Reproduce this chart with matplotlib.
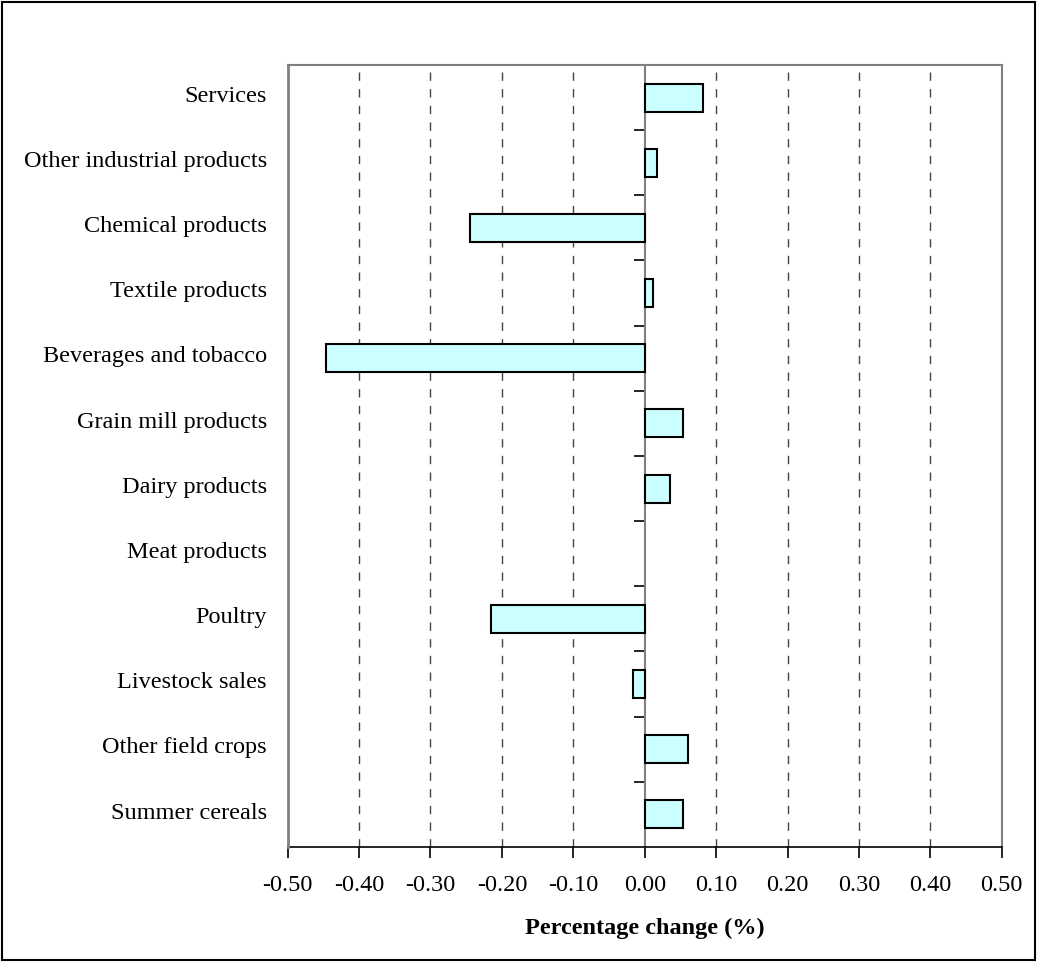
import matplotlib
matplotlib.use("Agg")
import matplotlib.pyplot as plt
import matplotlib.transforms as mtransforms
from matplotlib.patches import Rectangle

# categories bottom -> top
categories = ["Summer cereals", "Other field crops", "Livestock sales", "Poultry",
              "Meat products", "Dairy products", "Grain mill products",
              "Beverages and tobacco", "Textile products", "Chemical products",
              "Other industrial products", "Services"]
values = [0.054, 0.061, -0.017, -0.215, 0.0, 0.036, 0.053,
          -0.447, 0.012, -0.245, 0.017, 0.081]
xticks = [-0.5, -0.4, -0.3, -0.2, -0.1, 0.0, 0.1, 0.2, 0.3, 0.4, 0.5]

plt.rcParams['font.family'] = ['Liberation Serif', 'DejaVu Serif']
FS = 17.5

fig = plt.figure(figsize=(10.37, 9.63), dpi=100)
ax = fig.add_axes([0.2774, 0.1205, 0.6886, 0.812])

ypos = list(range(len(categories)))
widths = [1.5 if v != 0 else 0 for v in values]
ax.barh(ypos, values, height=0.43, color="#CCFFFF", edgecolor="black",
        linewidth=widths, zorder=3)

ax.set_xlim(-0.5, 0.5)
ax.set_ylim(-0.5, len(categories) - 0.5)

# dashed gridlines
for xv in xticks:
    if xv not in (-0.5, 0.0, 0.5):
        ax.axvline(xv, color="#444444", linestyle=(0, (6, 6)), linewidth=1.0, zorder=1)

# frame
for s in ("top", "right"):
    ax.spines[s].set_color("#808080")
    ax.spines[s].set_linewidth(1.5)
ax.spines["bottom"].set_color("black")
ax.spines["bottom"].set_linewidth(1.2)
ax.spines["left"].set_position(("data", 0))
ax.spines["left"].set_color("#808080")
ax.spines["left"].set_linewidth(1.5)
ax.axvline(-0.5, color="#808080", linewidth=2.0, zorder=4, clip_on=False)

ax.set_xticks(xticks)
ax.set_xticklabels([f"{v:.2f}" for v in xticks], fontsize=FS)
ax.tick_params(axis="x", direction="out", length=8, width=1.2, pad=12)

ax.set_yticks([y + 0.5 for y in ypos])
ax.set_yticklabels([])
ax.tick_params(axis="y", direction="out", length=8, width=1.2, color="black")

trans = mtransforms.blended_transform_factory(ax.transAxes, ax.transData)
for y, name in zip(ypos, categories):
    ax.text(-0.029, y + 0.02, name, transform=trans, ha="right", va="center", fontsize=FS)

ax.set_xlabel("Percentage change (%)", fontsize=FS, fontweight="bold", labelpad=16)

fig.patches.append(Rectangle((0.002, 0.003), 0.996, 0.995, transform=fig.transFigure,
                             fill=False, edgecolor="black", linewidth=1.5))

fig.savefig("out.png", dpi=100)
